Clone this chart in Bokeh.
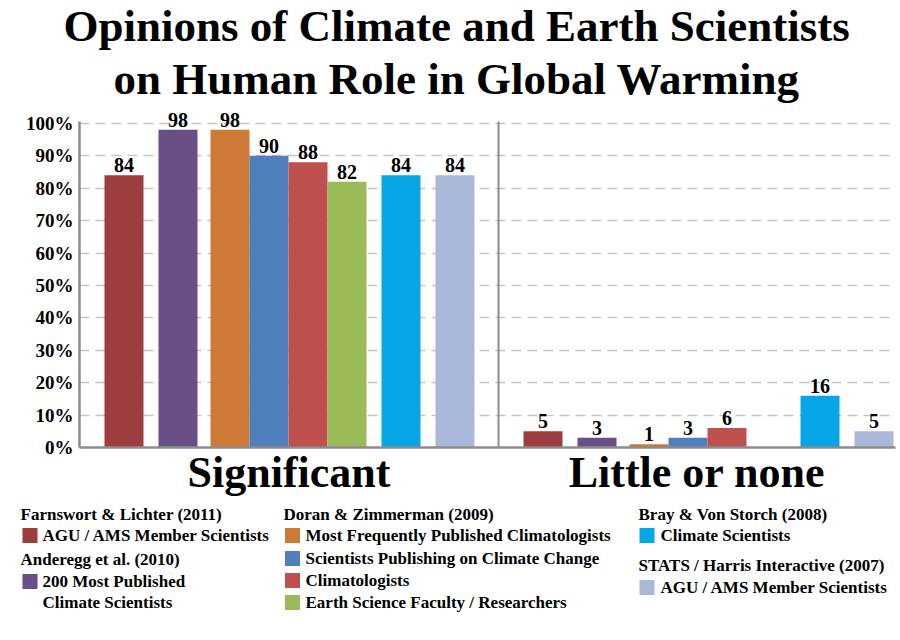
from bokeh.plotting import figure
from bokeh.models import Range1d, FixedTicker, Title, ColumnDataSource, LabelSet
from bokeh.embed import file_html
from bokeh.resources import INLINE

# ---------------- data ----------------
categories = ["Significant", "Little or none"]
studies = ["Farnswort & Lichter (2011)", "Anderegg et al. (2010)", "Doran & Zimmerman (2009)",
           "Bray & Von Storch (2008)", "STATS / Harris Interactive (2007)"]
series_labels = ["AGU / AMS Member Scientists", "200 Most Published\nClimate Scientists",
                 "Most Frequently Published Climatologists", "Scientists Publishing on Climate Change",
                 "Climatologists", "Earth Science Faculty / Researchers", "Climate Scientists",
                 "AGU / AMS Member Scientists"]
significant = [84, 98, 98, 90, 88, 82, 84, 84]
little_or_none = [5, 3, 1, 3, 6, None, 16, 5]
colors = ["#9c3e3e", "#6a4e88", "#cd7a37", "#4f80bd", "#c0504d", "#9bbb59", "#06a5e5", "#a9b8d8"]
y_ticks = [0, 10, 20, 30, 40, 50, 60, 70, 80, 90, 100]
y_tick_labels = ["0%", "10%", "20%", "30%", "40%", "50%", "60%", "70%", "80%", "90%", "100%"]
title_lines = ["Opinions of Climate and Earth Scientists", "on Human Role in Global Warming"]

# ---------------- layout ----------------
FONT = "Liberation Serif"
FRAME_W = 816
GROUP_START = [0, 419]
GROUP_END = [419, 816]
BAR_OFFSET = [25, 79, 131, 170, 209, 248, 302, 356]
BAR_W = 39
PX_PER_PCT = 3.25
Y_END = 105.2
TOP_BORDER = 105
BOT_BORDER = 52
FIG_W = 896
FIG_H = TOP_BORDER + round(Y_END * PX_PER_PCT) + BOT_BORDER
TITLE_OFFSETS = [-16, 34]

xs, tops, cols, labs = [], [], [], []
for gi, vals in enumerate([significant, little_or_none]):
    for si, v in enumerate(vals):
        if v is None:
            continue
        xs.append(GROUP_START[gi] + BAR_OFFSET[si] + BAR_W / 2)
        tops.append(v)
        cols.append(colors[si])
        labs.append(str(v))
src = ColumnDataSource(dict(x=xs, top=tops, color=cols, label=labs))

p = figure(width=FIG_W, height=FIG_H, x_range=Range1d(0, FRAME_W), y_range=Range1d(0, Y_END),
           output_backend="svg", toolbar_location=None,
           min_border_left=79, min_border_right=1, min_border_top=TOP_BORDER,
           min_border_bottom=BOT_BORDER)
p.outline_line_color = None
p.background_fill_color = "white"
p.border_fill_color = "white"

p.add_layout(Title(text=title_lines[1], text_font=FONT, text_font_size="45px",
                   text_font_style="bold", align="left", standoff=6, offset=TITLE_OFFSETS[1],
                   text_color="black"), "above")
p.add_layout(Title(text=title_lines[0], text_font=FONT, text_font_size="45px",
                   text_font_style="bold", align="left", standoff=-4, offset=TITLE_OFFSETS[0],
                   text_color="black"), "above")

p.xgrid.visible = False
p.ygrid.ticker = FixedTicker(ticks=y_ticks)
p.ygrid.grid_line_color = "#c4c4c4"
p.ygrid.grid_line_dash = "10 6"
p.ygrid.grid_line_width = 1.5

p.vbar(x="x", top="top", width=BAR_W, bottom=0, color="color", line_color=None, source=src)

# separator between the two groups
p.segment(x0=[GROUP_END[0]], y0=[0], x1=[GROUP_END[0]], y1=[y_ticks[-1] + 0.6],
          line_color="#8c8c8c", line_width=2)

p.add_layout(LabelSet(x="x", y="top", text="label", source=src, text_align="center",
                      text_baseline="alphabetic", y_offset=3, text_font=FONT,
                      text_font_size="20px", text_font_style="bold", text_color="black"))

yax = p.yaxis[0]
yax.ticker = FixedTicker(ticks=y_ticks)
yax.major_label_overrides = {t: l for t, l in zip(y_ticks, y_tick_labels)}
yax.major_label_text_font = FONT
yax.major_label_text_font_size = "19px"
yax.major_label_text_font_style = "bold"
yax.major_label_text_color = "black"
yax.major_tick_out = 0
yax.major_tick_in = 0
yax.minor_tick_out = 0
yax.minor_tick_in = 0
yax.major_label_standoff = 6
yax.axis_line_color = "#8c8c8c"
yax.axis_line_width = 2.5
yax.bounds = (0, y_ticks[-1] + 0.6)

centers = [(a + b) / 2 for a, b in zip(GROUP_START, GROUP_END)]
xax = p.xaxis[0]
xax.ticker = FixedTicker(ticks=centers)
xax.major_label_overrides = {c: n for c, n in zip(centers, categories)}
xax.major_label_text_font = FONT
xax.major_label_text_font_size = "44px"
xax.major_label_text_font_style = "bold"
xax.major_label_text_color = "black"
xax.major_tick_out = 0
xax.major_tick_in = 0
xax.minor_tick_out = 0
xax.minor_tick_in = 0
xax.major_label_standoff = 0
xax.axis_line_color = "#8c8c8c"
xax.axis_line_width = 2.5

# ---------------- legend figure (separate root, page coordinates) ----------------
LEG_TOP = FIG_H
LEG_H = 638 - LEG_TOP
lg = figure(width=FIG_W, height=LEG_H, x_range=Range1d(0, FIG_W),
            y_range=Range1d(LEG_TOP + LEG_H, LEG_TOP), output_backend="svg",
            toolbar_location=None, min_border=0)
lg.axis.visible = False
lg.grid.visible = False
lg.outline_line_color = None
lg.background_fill_color = "white"
lg.border_fill_color = "white"

# columns: (header x, swatch x, text x, rows) ; rows: (kind, index, y)
legend_cols = [
    (20, 29.5, 42, [("h", 0, 514), ("s", 0, 535), ("h", 1, 559), ("s", 1, 581)]),
    (283, 292, 305, [("h", 2, 514), ("s", 2, 535), ("s", 3, 558), ("s", 4, 580), ("s", 5, 602)]),
    (638, 646.5, 660, [("h", 3, 514), ("s", 6, 535), ("h", 4, 565), ("s", 7, 587)]),
]
LINE_STEP = 21
tx, ty, tt = [], [], []
sx, sy, sc = [], [], []
for hx, swx, txx, rows in legend_cols:
    for kind, idx, y in rows:
        if kind == "h":
            tx.append(hx); ty.append(y); tt.append(studies[idx])
        else:
            sx.append(swx); sy.append(y); sc.append(colors[idx])
            for li, line in enumerate(series_labels[idx].split("\n")):
                tx.append(txx); ty.append(y + li * LINE_STEP); tt.append(line)

lg.scatter(x=sx, y=sy, marker="square", size=15, color=sc, line_color=None)
lg.text(x=tx, y=ty, text=tt, text_font=FONT, text_font_size="17px", text_font_style="bold",
        text_baseline="middle", text_align="left", text_color="black")

open("out.html", "w").write(file_html([p, lg], INLINE))
